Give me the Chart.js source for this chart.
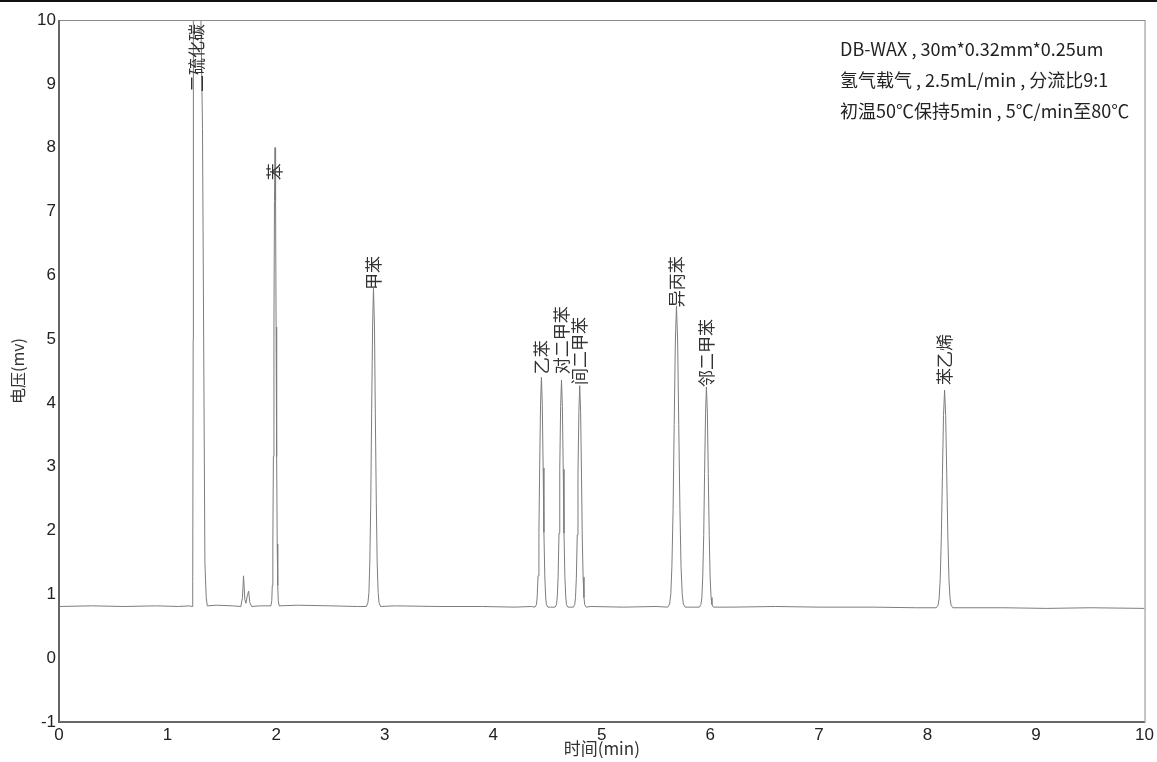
<!DOCTYPE html>
<html>
<head>
<meta charset="utf-8">
<script src="https://cdn.jsdelivr.net/npm/chart.js@4.4.1/dist/chart.umd.min.js"></script>
<style>
  html, body { margin: 0; padding: 0; background: #fff; }
  #wrap { position: relative; width: 1157px; height: 762px; border-top: 2px solid #111; box-sizing: border-box; }
  canvas { display: block; }
</style>
</head>
<body>
<div id="wrap"><canvas id="gc" width="1157" height="760"></canvas></div>
<script>
// peak names / retention times
const peakNames = ['二硫化碳', '苯', '甲苯', '乙苯', '对二甲苯', '间二甲苯', '异丙苯', '邻二甲苯', '苯乙烯']
const peakTimes = [1.27, 1.99, 2.897, 4.444, 4.629, 4.797, 5.688, 5.964, 8.158]
// where the bottom of each (rotated) label sits, in mV
const labelBase = [8.87, 7.49, 5.77, 4.45, 4.45, 4.28, 5.5, 4.25, 4.28]

const xTicks = [0, 1, 2, 3, 4, 5, 6, 7, 8, 9, 10]
const yTicks = [-1, 0, 1, 2, 3, 4, 5, 6, 7, 8, 9, 10]

const noteLines = [
  'DB-WAX , 30m*0.32mm*0.25um',
  '氢气载气 , 2.5mL/min , 分流比9:1',
  '初温50℃保持5min , 5℃/min至80℃'
]

// trace points [time, mV]
const baselinePts = [
  [0, 0.81], [0.3, 0.82], [0.6, 0.81], [0.9, 0.82], [1.1, 0.81], [1.2, 0.82],
  [1.45, 0.83], [1.6, 0.82], [1.85, 0.82], [2.2, 0.83], [2.5, 0.82], [2.75, 0.81],
  [3.1, 0.82], [3.5, 0.81], [3.9, 0.81], [4.2, 0.8], [4.35, 0.81], [4.53, 0.8],
  [4.71, 0.8], [4.9, 0.81], [5.2, 0.8], [5.5, 0.81], [5.85, 0.8], [6.2, 0.8],
  [6.6, 0.81], [7.0, 0.8], [7.5, 0.8], [7.9, 0.79], [8.3, 0.79], [8.7, 0.79],
  [9.1, 0.78], [9.5, 0.79], [10, 0.78]
]
const cs2Peak = [[1.226, 0.81], [1.232, 1.2], [1.236, 5], [1.238, 10.5], [1.28, 13], [1.305, 10.3], [1.322, 8.3], [1.344, 1.5], [1.356, 0.95], [1.366, 0.82]]
const smallPeaks = [[1.675, 0.81], [1.69, 0.95], [1.7, 1.29], [1.712, 0.92], [1.722, 0.86], [1.735, 0.98], [1.747, 1.05], [1.758, 0.87], [1.775, 0.81]]
const benzenePeak = [
  [1.952, 0.82], [1.96, 0.9], [1.965, 1.14], [1.97, 1.79], [1.975, 3.16], [1.98, 5.19], [1.985, 7.17], [1.99, 8.0],
  [1.995, 7.17], [2.0, 5.19], [2.005, 3.16], [2.01, 1.79], [2.015, 1.14], [2.02, 0.9], [2.028, 0.82]
]
const toluenePeak = [
  [2.832, 0.81], [2.846, 0.87], [2.855, 1.03], [2.863, 1.49], [2.872, 2.43], [2.88, 3.84], [2.889, 5.22], [2.897, 5.8],
  [2.906, 5.22], [2.914, 3.84], [2.923, 2.43], [2.931, 1.49], [2.94, 1.03], [2.948, 0.87], [2.962, 0.81]
]
const ethylbenzenePeak = [
  [4.385, 0.8], [4.398, 0.84], [4.405, 0.96], [4.413, 1.29], [4.421, 1.97], [4.428, 2.98], [4.436, 3.98], [4.444, 4.4],
  [4.452, 3.98], [4.46, 2.98], [4.467, 1.97], [4.475, 1.29], [4.483, 0.96], [4.49, 0.84], [4.503, 0.8]
]
const pXylenePeak = [
  [4.57, 0.8], [4.583, 0.84], [4.59, 0.96], [4.598, 1.28], [4.606, 1.96], [4.613, 2.96], [4.621, 3.94], [4.629, 4.36],
  [4.637, 3.94], [4.645, 2.96], [4.652, 1.96], [4.66, 1.28], [4.668, 0.96], [4.675, 0.84], [4.688, 0.8]
]
const mXylenePeak = [
  [4.738, 0.8], [4.751, 0.84], [4.758, 0.95], [4.766, 1.27], [4.774, 1.93], [4.781, 2.9], [4.789, 3.86], [4.797, 4.27],
  [4.805, 3.86], [4.813, 2.9], [4.82, 1.93], [4.828, 1.27], [4.836, 0.95], [4.843, 0.84], [4.856, 0.8]
]
const cumenePeak = [
  [5.608, 0.8], [5.625, 0.85], [5.636, 1.01], [5.646, 1.44], [5.657, 2.33], [5.667, 3.66], [5.678, 4.97], [5.688, 5.52],
  [5.699, 4.97], [5.709, 3.66], [5.72, 2.33], [5.73, 1.44], [5.741, 1.01], [5.751, 0.85], [5.768, 0.8]
]
const oXylenePeak = [
  [5.899, 0.8], [5.913, 0.84], [5.922, 0.95], [5.93, 1.27], [5.939, 1.92], [5.947, 2.89], [5.956, 3.84], [5.964, 4.25],
  [5.973, 3.84], [5.981, 2.89], [5.99, 1.92], [5.998, 1.27], [6.007, 0.95], [6.015, 0.84], [6.029, 0.8]
]
const styrenePeak = [
  [8.082, 0.79], [8.098, 0.83], [8.108, 0.94], [8.118, 1.25], [8.128, 1.9], [8.138, 2.86], [8.148, 3.8], [8.158, 4.2],
  [8.168, 3.8], [8.178, 2.86], [8.188, 1.9], [8.198, 1.25], [8.208, 0.94], [8.218, 0.83], [8.234, 0.79]
]

const trace = [].concat(baselinePts, cs2Peak, smallPeaks, benzenePeak, toluenePeak,
  ethylbenzenePeak, pXylenePeak, mXylenePeak, cumenePeak, oXylenePeak, styrenePeak)
  .sort((a, b) => a[0] - b[0])
  .map(p => ({ x: p[0], y: p[1] }))

const cjk = '"Noto Sans CJK SC", "Noto Sans", sans-serif'

// frame, peak labels and the method note
const extras = {
  id: 'extras',
  afterDatasetsDraw(chart) {
    const ctx = chart.ctx
    const a = chart.chartArea
    const xs = chart.scales.x
    const ys = chart.scales.y

    ctx.save()
    ctx.strokeStyle = '#8a8a8a'
    ctx.lineWidth = 1
    ctx.strokeRect(a.left + 0.5, a.top + 0.5, a.right - a.left, a.bottom - a.top)
    ctx.strokeStyle = '#666'
    ctx.lineWidth = 2
    ctx.beginPath()
    ctx.moveTo(a.left, a.top)
    ctx.lineTo(a.left, a.bottom)
    ctx.lineTo(a.right, a.bottom)
    ctx.stroke()
    ctx.restore()

    ctx.save()
    ctx.fillStyle = '#333'
    ctx.font = '17px ' + cjk
    ctx.textAlign = 'left'
    ctx.textBaseline = 'middle'
    peakNames.forEach((name, i) => {
      const px = xs.getPixelForValue(peakTimes[i])
      const py = ys.getPixelForValue(labelBase[i])
      ctx.save()
      ctx.translate(px, py)
      ctx.rotate(-Math.PI / 2)
      ctx.fillText(name, 0, 0)
      ctx.restore()
    })
    ctx.restore()

    ctx.save()
    ctx.fillStyle = '#222'
    ctx.font = '18px ' + cjk
    ctx.textAlign = 'left'
    ctx.textBaseline = 'middle'
    noteLines.forEach((t, i) => {
      ctx.fillText(t, 840, 47 + i * 31)
    })
    ctx.restore()
  }
}

new Chart(document.getElementById('gc'), {
  type: 'scatter',
  data: {
    datasets: [{
      data: trace,
      showLine: true,
      borderColor: '#7d7d7d',
      borderWidth: 1,
      pointRadius: 0,
      tension: 0
    }]
  },
  options: {
    responsive: false,
    animation: false,
    layout: { padding: { left: 0, right: 12, top: 18, bottom: 0 } },
    plugins: {
      legend: { display: false },
      tooltip: { enabled: false }
    },
    scales: {
      x: {
        type: 'linear',
        min: 0,
        max: 10,
        afterBuildTicks: s => { s.ticks = xTicks.map(v => ({ value: v })) },
        afterFit: s => { s.height = 40 },
        grid: { display: false, drawTicks: false },
        border: { display: false },
        ticks: { color: '#222', padding: 3, font: { family: '"Liberation Sans", Arial', size: 17 } },
        title: { display: true, text: '时间(min)', color: '#333', padding: { top: 0, bottom: 3 }, font: { family: cjk, size: 17 } }
      },
      y: {
        type: 'linear',
        min: -1,
        max: 10,
        afterBuildTicks: s => { s.ticks = yTicks.map(v => ({ value: v })) },
        afterFit: s => { s.width = 59 },
        grid: { display: false, drawTicks: false },
        border: { display: false },
        ticks: { color: '#222', padding: 3, font: { family: '"Liberation Sans", Arial', size: 17 } },
        title: { display: true, text: '电压(mv)', color: '#333', padding: { top: 8, bottom: 0 }, font: { family: cjk, size: 16 } }
      }
    }
  },
  plugins: [extras]
})
</script>
</body>
</html>
